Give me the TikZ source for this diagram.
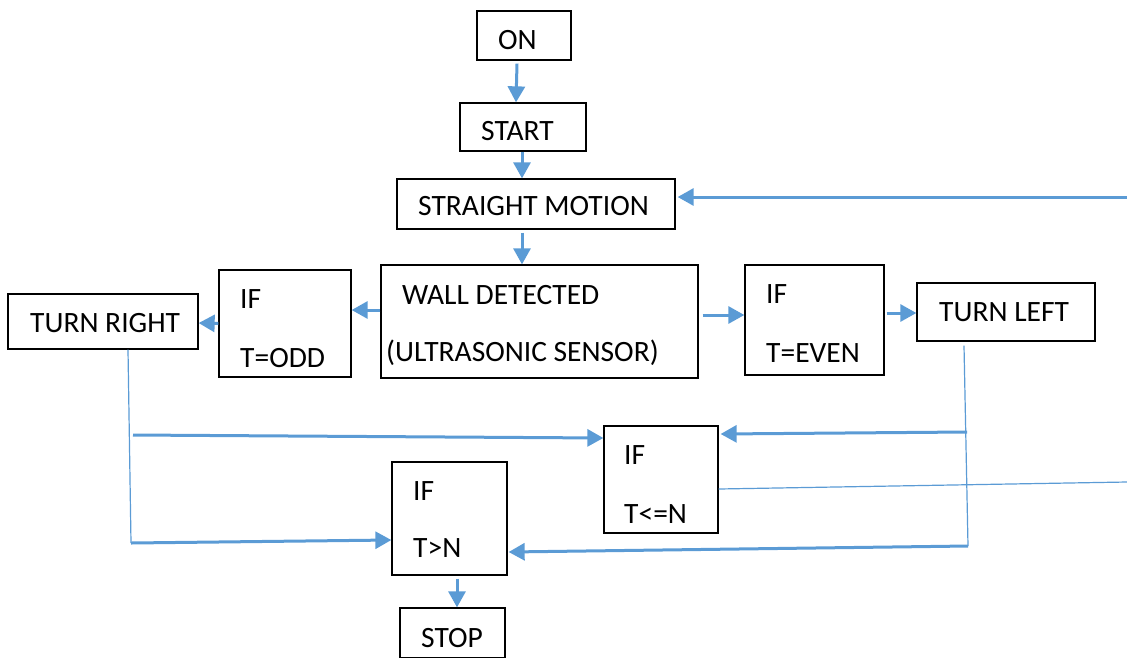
\documentclass[tikz,border=0pt]{standalone}
\usepackage{fontspec}
\setmainfont{Carlito}
\usetikzlibrary{arrows.meta,calc}
\definecolor{flowblue}{RGB}{91,155,213}
\begin{document}
\begin{tikzpicture}[x=1pt,y=-1pt,
  box/.style={draw=black,line width=1.3pt,inner sep=0pt,fill=white},
  txt/.style={anchor=base west,inner sep=0pt,font=\fontsize{29.5}{35}\selectfont},
  arr/.style={draw=flowblue,line width=3pt,-{Triangle[length=16pt,width=17pt]}},
  thin/.style={draw=flowblue,line width=1.2pt}]
\useasboundingbox (0,0) rectangle (1127,657);

% boxes
\node[box,minimum width=94pt,minimum height=49pt]  (on)       at (524,35.5) {};
\node[box,minimum width=126pt,minimum height=48pt] (start)    at (523,127) {};
\node[box,minimum width=278pt,minimum height=50pt] (straight) at (536,204) {};
\node[box,minimum width=317pt,minimum height=113pt](wall)     at (539.5,321.5) {};
\node[box,minimum width=132pt,minimum height=107pt](odd)      at (285,323.5) {};
\node[box,minimum width=190pt,minimum height=55pt] (right)    at (103,321.5) {};
\node[box,minimum width=139pt,minimum height=110pt](even)     at (814.5,320) {};
\node[box,minimum width=178pt,minimum height=58pt] (left)     at (1006,312) {};
\node[box,minimum width=114pt,minimum height=107pt](le)       at (661,479.5) {};
\node[box,minimum width=115pt,minimum height=113pt](gt)       at (449.5,518.5) {};
\node[box,minimum width=105pt,minimum height=50pt] (stop)     at (452.5,633) {};

% labels
\node[txt] (t-on)    at (498,49)  {ON};
\node[txt] (t-start) at (481,140) {START};
\node[txt] (t-str)   at (418,215) {STRAIGHT MOTION};
\node[txt] (t-wall1) at (402,304) {WALL DETECTED};
\node[txt] (t-wall2) at (386,361) {(ULTRASONIC SENSOR)};
\node[txt] (t-odd1)  at (240,308) {IF};
\node[txt] (t-odd2)  at (240,367) {T=ODD};
\node[txt] (t-right) at (30,332)  {TURN RIGHT};
\node[txt] (t-even1) at (766,303) {IF};
\node[txt] (t-even2) at (766,362) {T=EVEN};
\node[txt] (t-left)  at (939,321) {TURN LEFT};
\node[txt] (t-le1)   at (624,464) {IF};
\node[txt] (t-le2)   at (624,523) {T<=N};
\node[txt] (t-gt1)   at (413,500) {IF};
\node[txt] (t-gt2)   at (413,557) {T>N};
\node[txt] (t-stop)  at (421,647) {STOP};

% free ends and corners of the connectors
\coordinate (backin)  at (1127,197);
\coordinate (loopout) at (1127,482);
\coordinate (rsplit)  at (133,435);
\coordinate (rturn)   at (131,543);
\coordinate (lsplit)  at (967,432);
\coordinate (lturn)   at (968,546);

% main column
\draw[arr] ([xshift=-7pt,yshift=-3pt]on.south) -- ([xshift=-7pt]start.north);
\draw[arr] ([xshift=-1pt]start.south) -- ([xshift=-14pt]straight.north);
\draw[arr] ([xshift=-14pt,yshift=-3pt]straight.south) -- ([xshift=-17.5pt]wall.north);
\draw[arr] (backin) -- ([xshift=2pt,yshift=7pt]straight.east);

% branches
\draw[arr] ([yshift=11.5pt]wall.west) -- ([yshift=13.5pt]odd.east);
\draw[arr] (odd.west) -- ([yshift=-1.5pt]right.east);
\draw[arr] ([xshift=4pt,yshift=6.5pt]wall.east) -- ([yshift=5pt]even.west);
\draw[arr] ([xshift=2pt,yshift=7pt]even.east) -- ([yshift=-1pt]left.west);

% from TURN RIGHT
\draw[thin] ([xshift=25pt]right.south) -- (rturn);
\draw[arr] (rsplit) -- ([yshift=41.5pt]le.west);
\draw[arr] (rturn) -- ([yshift=-21.5pt]gt.west);

% from TURN LEFT
\draw[thin] ([xshift=-42pt,yshift=-4pt]left.south) -- (lturn);
\draw[arr] (lsplit) -- ([xshift=2pt,yshift=45.5pt]le.east);
\draw[arr] (lturn) -- ([xshift=1pt,yshift=-33.5pt]gt.east);

% loop back from T<=N and exit to STOP
\draw[thin] ([yshift=-9.5pt]le.east) -- (loopout);
\draw[arr] ([xshift=7.5pt,yshift=-3pt]gt.south) -- ([xshift=4.5pt]stop.north);
\end{tikzpicture}
\end{document}
